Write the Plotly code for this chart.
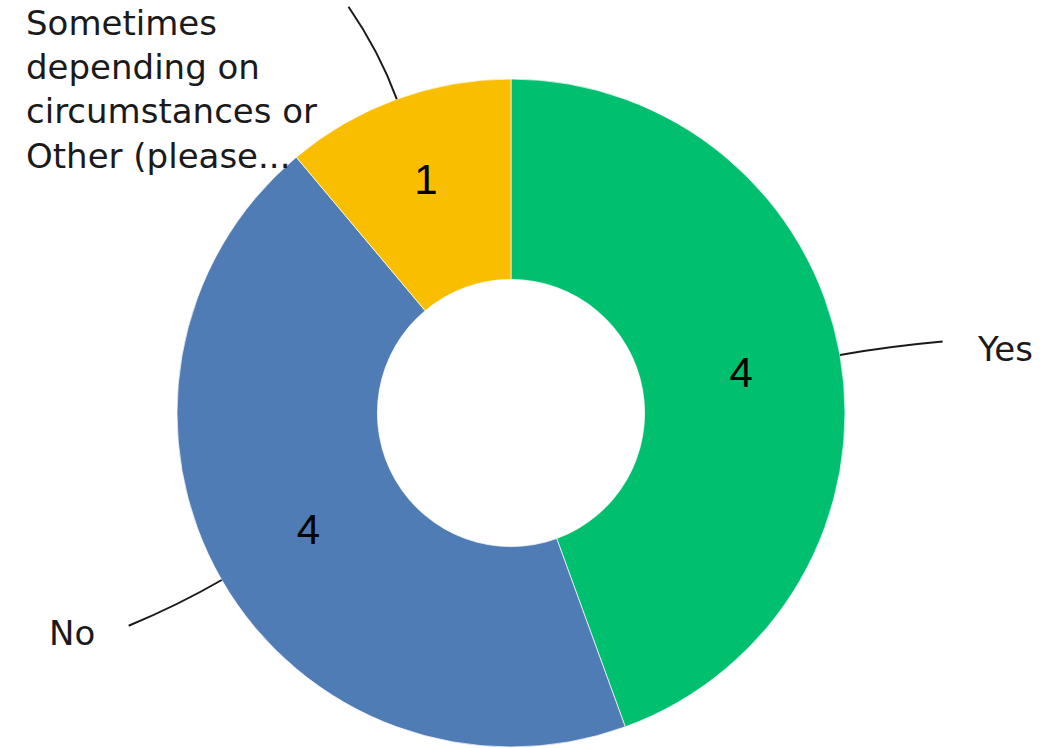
import math
import plotly.graph_objects as go

# Survey answers and response counts
labels = ["Yes", "No", "Sometimes<br>depending on<br>circumstances or<br>Other (please..."]
short_labels = ["Yes", "No", "Sometimes"]
counts = [4, 4, 1]
colors = ["#00BF6F", "#507CB6", "#F9BE00"]

W, H = 1045, 748
CX, CY, R = 511, 413, 334          # donut centre and outer radius in px
HOLE = 0.40

fig = go.Figure(go.Pie(
    labels=short_labels,
    values=counts,
    text=[str(v) for v in counts],
    textinfo="text",
    textposition="inside",
    insidetextorientation="horizontal",
    textfont=dict(family="Liberation Sans, Arial, sans-serif", size=42, color="#000000"),
    marker=dict(colors=colors, line=dict(color="#ffffff", width=0.7)),
    hole=HOLE,
    sort=False,
    direction="clockwise",
    rotation=0,
    showlegend=False,
    hoverinfo="label+value",
    domain=dict(x=[(CX - R) / W, (CX + R) / W],
                y=[1 - (CY + R) / H, 1 - (CY - R) / H]),
))


def px_to_paper(x, y):
    return x / W, 1 - y / H


def polar(radius, deg):
    a = math.radians(deg)
    return CX + radius * math.sin(a), CY - radius * math.cos(a)


# leader lines and outside category labels
total = sum(counts)
bend = [0.6, 0.9, -1.8]
start = 0.0
for i, v in enumerate(counts):
    mid = start + 360.0 * v / total / 2
    start += 360.0 * v / total
    sx, sy = polar(R, mid)
    cx, cy = polar(R * 1.15, mid)
    ex, ey = polar(R * 1.31, mid + bend[i])
    p = [px_to_paper(*pt) for pt in [(sx, sy), (cx, cy), (ex, ey)]]
    fig.add_shape(
        type="path",
        xref="paper", yref="paper",
        path=f"M {p[0][0]},{p[0][1]} Q {p[1][0]},{p[1][1]} {p[2][0]},{p[2][1]}",
        line=dict(color="#1a1a1a", width=2),
    )
    if ex > CX and ey > 40:
        ax, ay, xa, ya = ex + 32, ey + 7, "left", "middle"
    elif ex < CX and ey > 40:
        ax, ay, xa, ya = ex - 32, ey + 7, "right", "middle"
    else:
        ax, ay, xa, ya = ex - 30, max(ey - 6, 1), "right", "top"
    axp, ayp = px_to_paper(ax, ay)
    fig.add_annotation(
        x=axp, y=ayp, xref="paper", yref="paper",
        text=labels[i], showarrow=False,
        xanchor=xa, yanchor=ya, align="left",
        font=dict(family="DejaVu Sans, sans-serif", size=34, color="#1a1a1a"),
    )

fig.update_layout(
    width=W, height=H,
    margin=dict(l=0, r=0, t=0, b=0),
    paper_bgcolor="#ffffff",
    plot_bgcolor="#ffffff",
)

fig.write_html("out.html")
